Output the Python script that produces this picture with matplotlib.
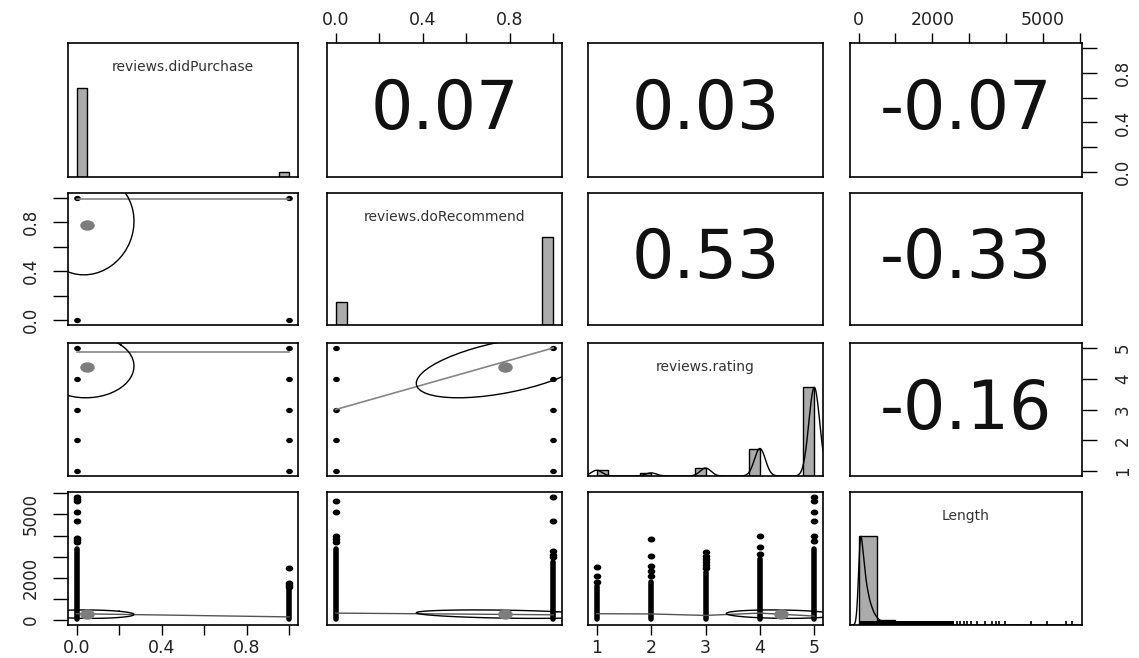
import numpy as np
import matplotlib.pyplot as plt
from matplotlib.markers import MarkerStyle
from matplotlib.transforms import Affine2D

plt.rcParams['font.family'] = ['DejaVu Sans']

var_names = ['reviews.didPurchase', 'reviews.doRecommend', 'reviews.rating', 'Length']

# correlations printed in the upper panels
cor_pairs = [(0, 1), (0, 2), (0, 3), (1, 2), (1, 3), (2, 3)]
cor_values = [0.07, 0.03, -0.07, 0.53, -0.33, -0.16]

# range, mean and sd of each variable
var_min = [0, 0, 1, 0]
var_max = [1, 1, 5, 5830]
var_mean = [0.05, 0.78, 4.38, 280]
var_sd = [0.22, 0.41, 1.0, 200]

# axis ticks (R drops the labels that would overlap)
var_ticks = [[0, 0.2, 0.4, 0.6, 0.8, 1.0],
             [0, 0.2, 0.4, 0.6, 0.8, 1.0],
             [1, 2, 3, 4, 5],
             [0, 1000, 2000, 3000, 4000, 5000, 6000]]
var_ticklabels = [['0.0', '', '0.4', '', '0.8', ''],
                  ['0.0', '', '0.4', '', '0.8', ''],
                  ['1', '2', '3', '4', '5'],
                  ['0', '', '2000', '', '', '5000', '']]

# histograms of the discrete variables
purchase_values = [0, 1]
purchase_counts = [1000, 55]
recommend_values = [0, 1]
recommend_counts = [260, 1000]
rating_values = [1, 2, 3, 4, 5]
rating_counts = [65, 35, 90, 310, 1000]

# Length: counts per 100 chars below 1000, then per 500 chars up to 6000
length_fine_counts = [1000, 550, 300, 170, 90, 50, 30, 20, 15, 10]
length_tail_counts = [40, 20, 10, 6, 4, 2, 2, 1, 1, 1]
length_rug_dense = 2600
length_rug_values = [2660, 2750, 2850, 2950, 3050, 3200, 3440, 3620, 3730,
                     3820, 3960, 4670, 5100, 5620, 5800]

# Length by group: top of the solid column of points, then single points above it
purch_len_dense = [3350, 1450]
purch_len_points = [[3700, 3800, 3900, 4670, 5100, 5620, 5730, 5830],
                    [1550, 1650, 1750, 2450]]
recom_len_dense = [3350, 2740]
recom_len_points = [[3700, 3850, 3960, 5100, 5620],
                    [2980, 3100, 3260, 4670, 5830]]
rating_len_dense = [1620, 1800, 2260, 2880, 3350]
rating_len_points = [[1800, 2090, 2510],
                     [2100, 2300, 2550, 3020, 3820],
                     [2450, 2600, 2750, 2900, 3050, 3200],
                     [3110, 3440, 3960],
                     [3730, 3960, 4670, 5100, 5620, 5830]]

# smoothed fits (y at each group of the x variable)
smooth_recom_purch = [0.99, 0.99]
smooth_rating_purch = [4.87, 4.87]
smooth_rating_recom = [3.0, 5.0]
smooth_len_purch = [300, 150]
smooth_len_recom = [330, 250]
smooth_len_rating = [300, 290, 220, 330, 190]

W, H = 1139, 658
col_px = [(68, 298), (327, 562), (588, 823), (850, 1082)]
row_px = [(43, 177), (193, 325), (343, 476), (492, 625)]
hist_col = '#ababab'
smooth_col = '#858585'
dot = MarkerStyle('o', transform=Affine2D().scale(1.35, 1.0))
mean_dot = MarkerStyle('o', transform=Affine2D().scale(1.45, 1.0))

cor = np.eye(4)
for (a, b), r in zip(cor_pairs, cor_values):
    cor[a, b] = cor[b, a] = r


def lim(k):
    rng = var_max[k] - var_min[k]
    return var_min[k] - 0.04 * rng, var_max[k] + 0.04 * rng


fig = plt.figure(figsize=(W / 100, H / 100), dpi=100)
axes = {}
for i in range(4):
    for j in range(4):
        x0, x1 = col_px[j]
        y0, y1 = row_px[i]
        ax = fig.add_axes([x0 / W, 1 - y1 / H, (x1 - x0) / W, (y1 - y0) / H])
        ax.set_xticks([])
        ax.set_yticks([])
        for s in ax.spines.values():
            s.set_linewidth(1.2)
        axes[i, j] = ax

# axes on the outside, alternating sides like R's pairs()
for j in range(4):
    ax = axes[0, j] if j % 2 else axes[3, j]
    ax.set_xticks(var_ticks[j])
    ax.set_xticklabels(var_ticklabels[j])
    if j % 2:
        ax.xaxis.tick_top()
    ax.tick_params(axis='x', length=7, width=1, pad=3, labelsize=12.5, labelcolor='#222222')
for i in range(4):
    ax = axes[i, 3] if i % 2 == 0 else axes[i, 0]
    ax.set_yticks(var_ticks[i])
    ax.set_yticklabels(var_ticklabels[i], va='center')
    if i % 2 == 0:
        ax.yaxis.tick_right()
        ax.tick_params(axis='y', pad=12)
    else:
        ax.tick_params(axis='y', pad=9)
    ax.tick_params(axis='y', length=11, width=1, labelsize=12, labelrotation=90,
                   labelcolor='#222222')

for i in range(4):
    for j in range(4):
        axes[i, j].set_xlim(lim(j))
        axes[i, j].set_ylim(lim(i))


def hist_bars(ax, values, counts, width):
    top = max(counts)
    lefts = [v if v == min(values) else v - width for v in values]
    ax.bar(lefts, [c / top for c in counts], width=width, align='edge',
           color=hist_col, edgecolor='k', lw=1)


def ellipse(ax, i, j):
    xm, ym = var_mean[j], var_mean[i]
    xs, ys = var_sd[j], var_sd[i]
    r = cor[i, j]
    t = np.linspace(0, 2 * np.pi, 52)
    th = 1 / np.sqrt(2)
    ex = th * (np.cos(t) * np.sqrt(1 + r) - np.sin(t) * np.sqrt(1 - r))
    ey = th * (np.cos(t) * np.sqrt(1 + r) + np.sin(t) * np.sqrt(1 - r))
    ax.plot(xm + xs * ex, ym + ys * ey, color='k', lw=1)
    ax.plot([xm], [ym], marker=mean_dot, ms=6.5, color='#7d7d7d', ls='none')


def grid_dots(ax, xs, ys):
    gx, gy = np.meshgrid(xs, ys)
    ax.plot(gx.ravel(), gy.ravel(), ls='none', marker=dot, ms=2.8, color='k')


def length_columns(ax, xs, dense, points):
    for x, top, pts in zip(xs, dense, points):
        ax.plot([x, x], [var_min[3] + 60, top], color='k', lw=4, solid_capstyle='round')
        ax.plot([x] * len(pts), pts, ls='none', marker=dot, ms=3.3, color='k')


# diagonal: histograms with names
for k in range(4):
    ax = axes[k, k]
    ax.set_ylim(0, 1.5)
    ax.text(0.5, 0.82, var_names[k], transform=ax.transAxes, ha='center', va='center',
            fontsize=10, color='#333333')

hist_bars(axes[0, 0], purchase_values, purchase_counts, 0.05)
hist_bars(axes[1, 1], recommend_values, recommend_counts, 0.05)
hist_bars(axes[2, 2], rating_values, rating_counts, 0.2)

gx = np.linspace(*lim(2), 400)
dens = sum(c * np.exp(-0.5 * ((gx - v) / 0.1) ** 2) for v, c in zip(rating_values, rating_counts))
axes[2, 2].plot(gx, dens / dens.max(), color='k', lw=1)

ax = axes[3, 3]
len_counts_500 = [sum(length_fine_counts[:5]), sum(length_fine_counts[5:])] + length_tail_counts
len_lefts = [500 * b for b in range(len(len_counts_500))]
top = max(len_counts_500)
ax.bar(len_lefts, [c / top for c in len_counts_500], width=500, align='edge',
       color=hist_col, edgecolor='k', lw=1)
centers = [100 * b + 50 for b in range(len(length_fine_counts))] + \
          [1000 + 500 * b + 250 for b in range(len(length_tail_counts))]
weights = length_fine_counts + length_tail_counts
gl = np.linspace(*lim(3), 1200)
dens = sum(w * np.exp(-0.5 * ((gl - c) / 55) ** 2) for c, w in zip(centers, weights))
ax.plot(gl, dens / dens.max(), color='k', lw=1)
ax.bar([var_min[3]], [0.045], width=length_rug_dense, align='edge', color='k', lw=0)
ax.vlines(length_rug_values, 0, 0.045, color='k', lw=1.2)

# upper panels: correlations
for (a, b), r in zip(cor_pairs, cor_values):
    axes[a, b].text(0.5, 0.5, f'{r:.2f}', transform=axes[a, b].transAxes,
                    ha='center', va='center', fontsize=48, color='#111111')

# lower panels
ax = axes[1, 0]
grid_dots(ax, purchase_values, recommend_values)
ax.plot(purchase_values, smooth_recom_purch, color=smooth_col, lw=1.2)
ellipse(ax, 1, 0)

ax = axes[2, 0]
grid_dots(ax, purchase_values, rating_values)
ax.plot(purchase_values, smooth_rating_purch, color=smooth_col, lw=1.2)
ellipse(ax, 2, 0)

ax = axes[2, 1]
grid_dots(ax, recommend_values, rating_values)
ax.plot(recommend_values, smooth_rating_recom, color=smooth_col, lw=1.2)
ellipse(ax, 2, 1)

ax = axes[3, 0]
length_columns(ax, purchase_values, purch_len_dense, purch_len_points)
ax.plot(purchase_values, smooth_len_purch, color='#555555', lw=1)
ellipse(ax, 3, 0)

ax = axes[3, 1]
length_columns(ax, recommend_values, recom_len_dense, recom_len_points)
ax.plot(recommend_values, smooth_len_recom, color='#555555', lw=1)
ellipse(ax, 3, 1)

ax = axes[3, 2]
length_columns(ax, rating_values, rating_len_dense, rating_len_points)
ax.plot(rating_values, smooth_len_rating, color='#555555', lw=1)
ellipse(ax, 3, 2)

fig.savefig('out.png', dpi=100)
